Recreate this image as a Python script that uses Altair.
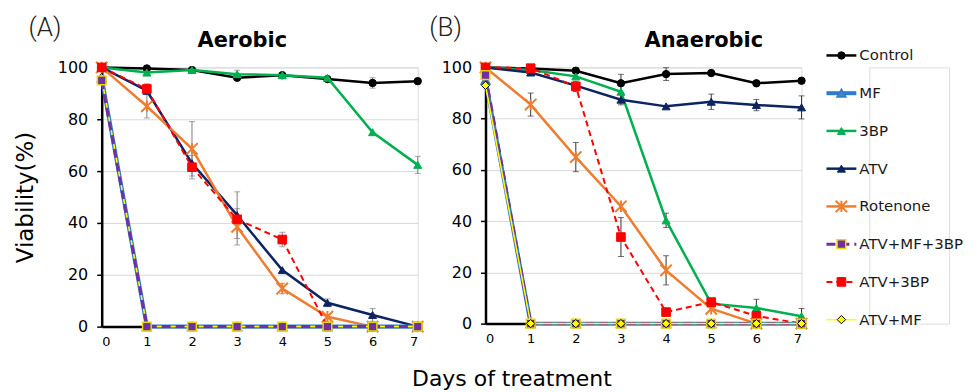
import altair as alt
import pandas as pd

days = [0, 1, 2, 3, 4, 5, 6, 7]
series_names = ["Control", "MF", "3BP", "ATV", "Rotenone", "ATV+MF+3BP", "ATV+3BP", "ATV+MF"]
panel_labels = ["(A)", "(B)"]
panel_titles = ["Aerobic", "Anaerobic"]
x_title = "Days of treatment"
y_title = "Viability(%)"
y_ticks = [0, 20, 40, 60, 80, 100]

# ---- Aerobic (A) ----
aer_control = [100, 99.6, 99, 96, 97, 95.5, 94, 94.7]
aer_mf = [96, 0, 0, 0, 0, 0, 0, 0]
aer_3bp = [100, 98, 99, 97.4, 97, 96, 75, 62.4]
aer_atv = [100, 91, 63, 43, 21.8, 9.2, 4.5, 0]
aer_rotenone = [100, 85, 68.6, 38.5, 14.7, 3.8, 0, 0]
aer_atv_mf_3bp = [95, 0, 0, 0, 0, 0, 0, 0]
aer_atv_3bp = [100, 91.7, 61.5, 41.4, 33.6, 0, 0, 0]
aer_atv_mf = [96, 0, 0, 0, 0, 0, 0, 0]

aer_control_err = [0, 0, 0, 0, 0, 0, 2, 0]
aer_mf_err = [0, 0, 0, 0, 0, 0, 0, 0]
aer_3bp_err = [0, 0, 0, 1.5, 0, 0, 0, 3.3]
aer_atv_err = [0, 0, 0, 9, 0, 1.5, 2.5, 0]
aer_rotenone_err = [0, 4.5, 10.5, 7, 2, 0, 0, 0]
aer_atv_mf_3bp_err = [0, 0, 0, 0, 0, 0, 0, 0]
aer_atv_3bp_err = [0, 2, 4.5, 0, 2.8, 0, 0, 0]
aer_atv_mf_err = [0, 0, 0, 0, 0, 0, 0, 0]

# ---- Anaerobic (B) ----
ana_control = [100, 99.6, 98.7, 93.8, 97.4, 97.8, 93.8, 94.8]
ana_mf = [95, 0, 0, 0, 0, 0, 0, 0]
ana_3bp = [100, 99, 96.5, 90.5, 40.3, 7.8, 6.1, 2.9]
ana_atv = [100, 98, 92.9, 87.4, 84.8, 86.6, 85.3, 84.4]
ana_rotenone = [100, 85.5, 65, 45.8, 20.8, 5.8, 0, 0]
ana_atv_mf_3bp = [97, 0, 0, 0, 0, 0, 0, 0]
ana_atv_3bp = [100, 99.7, 92.6, 33.8, 4.5, 8.4, 3, 0]
ana_atv_mf = [93, 0, 0, 0, 0, 0, 0, 0]

ana_control_err = [0, 0, 1, 3.5, 2.5, 0, 0, 0]
ana_mf_err = [0, 0, 0, 0, 0, 0, 0, 0]
ana_3bp_err = [0, 0, 0, 0, 2.8, 0, 3.4, 3]
ana_atv_err = [0, 0, 0, 2, 0, 3, 2.2, 4.5]
ana_rotenone_err = [0, 4.5, 5.7, 0, 5.7, 0, 0, 0]
ana_atv_mf_3bp_err = [0, 0, 0, 0, 0, 0, 0, 0]
ana_atv_3bp_err = [0, 0, 2, 7.6, 0, 0, 0, 0]
ana_atv_mf_err = [0, 0, 0, 0, 0, 0, 0, 0]

aer_values = dict(zip(series_names, [aer_control, aer_mf, aer_3bp, aer_atv, aer_rotenone,
                                     aer_atv_mf_3bp, aer_atv_3bp, aer_atv_mf]))
aer_errors = dict(zip(series_names, [aer_control_err, aer_mf_err, aer_3bp_err, aer_atv_err,
                                     aer_rotenone_err, aer_atv_mf_3bp_err, aer_atv_3bp_err, aer_atv_mf_err]))
ana_values = dict(zip(series_names, [ana_control, ana_mf, ana_3bp, ana_atv, ana_rotenone,
                                     ana_atv_mf_3bp, ana_atv_3bp, ana_atv_mf]))
ana_errors = dict(zip(series_names, [ana_control_err, ana_mf_err, ana_3bp_err, ana_atv_err,
                                     ana_rotenone_err, ana_atv_mf_3bp_err, ana_atv_3bp_err, ana_atv_mf_err]))

# ---- styles ----
FONT = "DejaVu Sans"
ASTERISK = "M-1,-1L1,1M-1,1L1,-1M0,-1L0,1"
line_color = {"Control": "#000000", "MF": "#2E7BCF", "3BP": "#00B050", "ATV": "#0C2461",
              "Rotenone": "#ED7D31", "ATV+MF+3BP": "#7030A0", "ATV+3BP": "#FF0000", "ATV+MF": "#FFFF00"}
line_width = {"Control": 2.5, "MF": 4, "3BP": 2.5, "ATV": 2.5, "Rotenone": 2.5,
              "ATV+MF+3BP": 3, "ATV+3BP": 2, "ATV+MF": 1.5}
line_dash = {"ATV+MF+3BP": [9, 5], "ATV+3BP": [6, 4]}
marker = {
    "Control": dict(shape="circle", size=55, fill="#000000", stroke="#000000", strokeWidth=1),
    "MF": dict(shape="triangle-up", size=80, fill="#4F81BD", stroke="#2E7BCF", strokeWidth=1.5),
    "3BP": dict(shape="triangle-up", size=65, fill="#00B050", stroke="#00B050", strokeWidth=1),
    "ATV": dict(shape="triangle-up", size=65, fill="#0C2461", stroke="#0C2461", strokeWidth=1),
    "Rotenone": dict(shape=ASTERISK, size=130, stroke="#ED7D31", strokeWidth=2),
    "ATV+MF+3BP": dict(shape="square", size=75, fill="#7030A0", stroke="#E8D800", strokeWidth=1.5),
    "ATV+3BP": dict(shape="square", size=75, fill="#FF0000", stroke="#FF0000", strokeWidth=1),
    "ATV+MF": dict(shape="diamond", size=70, fill="#FFFF00", stroke="#000000", strokeWidth=1),
}


def point_mark(name):
    m = dict(marker[name])
    if "fill" in m:
        return dict(filled=True, opacity=1, **m)
    return dict(filled=False, opacity=1, **m)


def line_mark(name):
    kw = dict(color=line_color[name], strokeWidth=line_width[name])
    if name in line_dash:
        kw["strokeDash"] = line_dash[name]
    return kw


def make_panel(idx, values, errors, order, height, err_color, label_x, title_x):
    rows = []
    for name in series_names:
        for d, v, e in zip(days, values[name], errors[name]):
            rows.append({"series": name, "day": d, "value": v,
                         "lo": max(v - e, 0), "hi": v + e, "err": e})
    df = pd.DataFrame(rows)

    x_axis_kw = dict(values=days, format="d", grid=False, ticks=False,
                     domainColor="#000000", domainWidth=2.5,
                     labelFont=FONT, labelFontSize=13, labelColor="#000000", labelPadding=9)
    if idx == 0:
        x_axis_kw.update(title=x_title, titleX=411, titleY=59, titleAlign="center",
                         titleBaseline="alphabetic", titleFont=FONT, titleFontSize=22,
                         titleFontWeight="normal", titleColor="#000000")
    else:
        x_axis_kw.update(title=None)
    y_axis_kw = dict(values=y_ticks, grid=True, gridColor="#d9d9d9", gridWidth=1,
                     domainColor="#000000", domainWidth=2.5, tickColor="#000000",
                     tickSize=5, tickWidth=1.5, labelFont=FONT, labelFontSize=16,
                     labelColor="#000000", labelPadding=9)
    if idx == 0:
        y_axis_kw.update(title=y_title, titleFont=FONT, titleFontSize=23,
                         titleFontWeight="normal", titleColor="#000000", titlePadding=20)
    else:
        y_axis_kw.update(title=None)

    xs = alt.Scale(domain=[0, 7], nice=False, zero=False)
    ys = alt.Scale(domain=[0, 100], nice=False)
    x_enc = alt.X("day:Q", scale=xs, axis=alt.Axis(**x_axis_kw))

    def y_enc(field):
        return alt.Y(field + ":Q", scale=ys, axis=alt.Axis(**y_axis_kw))

    base = alt.Chart(df)
    errs = base.transform_filter(alt.datum.err > 0)
    layers = [
        errs.mark_rule(color=err_color, strokeWidth=1).encode(x=x_enc, y=y_enc("lo"), y2="hi:Q"),
        errs.mark_tick(orient="horizontal", size=6, thickness=1, color=err_color).encode(
            x=x_enc, y=y_enc("lo")),
        errs.mark_tick(orient="horizontal", size=6, thickness=1, color=err_color).encode(
            x=x_enc, y=y_enc("hi")),
    ]
    for name in order:
        s = base.transform_filter(alt.datum.series == name)
        layers.append(s.mark_line(**line_mark(name)).encode(x=x_enc, y=y_enc("value")))
        layers.append(s.mark_point(**point_mark(name)).encode(x=x_enc, y=y_enc("value")))

    lab_df = pd.DataFrame({"label": [panel_labels[idx]], "title": [panel_titles[idx]]})
    lab = alt.Chart(lab_df)
    layers.append(lab.mark_text(font="Roboto", fontSize=26, fontWeight=300,
                                color="#222222", align="center", baseline="alphabetic").encode(
        text="label:N", x=alt.value(label_x), y=alt.value(-32)))
    layers.append(lab.mark_text(font=FONT, fontSize=21, fontWeight="bold",
                                color="#000000", align="center", baseline="alphabetic").encode(
        text="title:N", x=alt.value(title_x), y=alt.value(-20)))
    return alt.layer(*layers).properties(width=317, height=height)


left_order = ["Control", "3BP", "ATV", "Rotenone", "ATV+3BP", "MF", "ATV+MF", "ATV+MF+3BP"]
right_order = ["Control", "3BP", "ATV", "Rotenone", "ATV+3BP", "MF", "ATV+MF+3BP", "ATV+MF"]

left = make_panel(0, aer_values, aer_errors, left_order, 260, "#7f7f7f", -57, 141)
right = make_panel(1, ana_values, ana_errors, right_order, 257, "#333333", -40, 219)

# ---- legend ----
leg_df = pd.DataFrame({"series": series_names})
ly = alt.Y("series:N", scale=alt.Scale(type="point", domain=series_names, range=[-12, 253], padding=0),
           axis=None)
leg_layers = []
leg_base = alt.Chart(leg_df)
for name in series_names:
    s = leg_base.transform_filter(alt.datum.series == name)
    leg_layers.append(s.mark_rule(**line_mark(name)).encode(x=alt.value(-43), x2=alt.value(-13), y=ly))
    leg_layers.append(s.mark_point(**point_mark(name)).encode(x=alt.value(-28), y=ly))
leg_layers.append(leg_base.mark_text(align="left", baseline="middle", font=FONT, fontSize=15,
                                     color="#1a1a1a").encode(x=alt.value(-10), y=ly, text="series:N"))
legend = alt.layer(*leg_layers).properties(width=80, height=257)

chart = alt.hconcat(left, right, legend, spacing=68, bounds="flush").configure_view(
    strokeWidth=0).configure(background="#ffffff")

chart.save("out.html", embed_options={"renderer": "svg", "actions": False})
